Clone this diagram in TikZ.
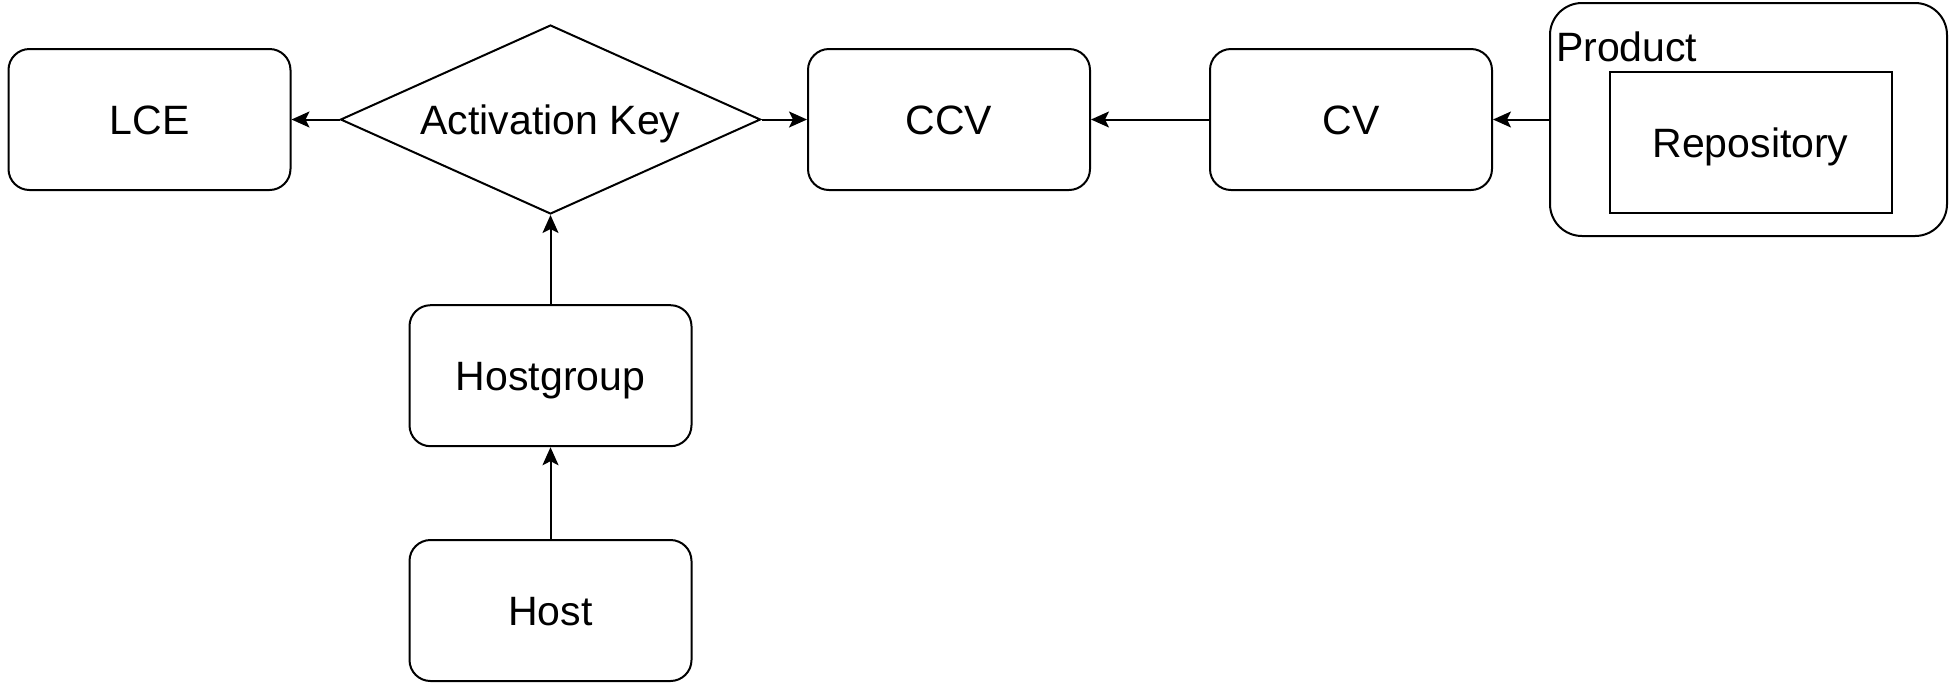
\documentclass[tikz,border=0pt]{standalone}
\usepackage{fontspec}
\setmainfont{Liberation Sans}
\usetikzlibrary{shapes.geometric,arrows.meta}
\begin{document}
\begin{tikzpicture}[x=0.5pt,y=-0.5pt,
  every node/.style={font=\fontsize{20.5}{24}\selectfont, inner sep=0pt, line width=1pt, text height=14.7pt, text depth=0pt},
  rbox/.style={draw, rounded corners=10.5pt, minimum width=141pt, minimum height=70.5pt},
  sbox/.style={draw, minimum width=141pt, minimum height=70.75pt},
  dia/.style={draw, diamond, shape aspect=2.22, minimum width=210pt, minimum height=94.5pt},
  cont/.style={draw, rounded corners=16pt, minimum width=198.5pt, minimum height=116.5pt},
  conn/.style={line width=1pt, -{Stealth[length=9pt, width=8pt, inset=2pt]}}
]
\useasboundingbox (0,0) rectangle (1949,682);
\node[rbox] (lce) at (149.5,119.5) {LCE};
\node[dia] (ak) at (550.5,119.5) {Activation Key};
\node[rbox] (ccv) at (949,119.5) {CCV};
\node[rbox] (cv) at (1351,119.5) {CV};
\node[cont] (prod) at (1748.5,119.5) {};
\node[anchor=base west] (prodlbl) at (1555,61) {Product};
\node[sbox] (repo) at (1750.5,142.5) {Repository};
\node[rbox] (hg) at (550.5,375.7) {Hostgroup};
\node[rbox] (host) at (550.5,610.5) {Host};
\draw[conn] (ak.west) -- (lce.east);
\draw[conn] (ak.east) -- (ccv.west);
\draw[conn] (cv.west) -- (ccv.east);
\draw[conn] (prod.west) -- (cv.east);
\draw[conn] (hg.north) -- (ak.south);
\draw[conn] (host.north) -- (hg.south);
\end{tikzpicture}
\end{document}
